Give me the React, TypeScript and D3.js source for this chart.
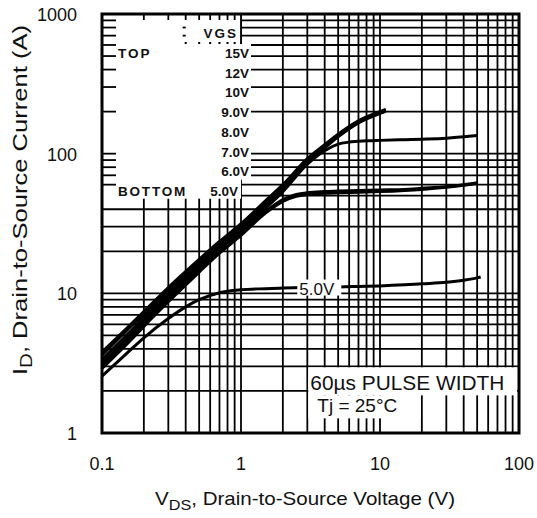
import * as d3 from "d3";

// axis labels
const xTickValues = [0.1, 1, 10, 100];
const xTickLabels = ["0.1", "1", "10", "100"];
const yTickValues = [1, 10, 100, 1000];
const yTickLabels = ["1", "10", "100", "1000"];

// VGS legend
const legendLabels = ["15V", "12V", "10V", "9.0V", "8.0V", "7.0V", "6.0V", "5.0V"];

// curves (VDS in V, ID in A)
const vdsBand = [0.1, 0.15, 0.2, 0.3, 0.5, 0.7, 1, 1.5, 2, 3, 4, 5, 7, 10, 11];
const id15 = [3.8, 5.6, 7.4, 11, 17.5, 23.5, 31.5, 46, 60, 92, 116, 138, 172, 200, 207];
const id12 = [3.6, 5.4, 7.1, 10.6, 17, 23, 30.5, 45, 59, 90, 114, 136, 170, 198, 205];
const id10 = [3.35, 5.0, 6.7, 10, 16.2, 22, 29.5, 43.5, 57, 88, 112, 134, 168, 196, 203];
const id9 = [3.15, 4.7, 6.3, 9.5, 15.5, 21, 28.5, 42, 55.5, 86, 110, 132, 166, 194, 201];

const vds8 = [0.1, 0.15, 0.2, 0.3, 0.5, 0.7, 1, 1.5, 2, 3, 4, 5, 6, 8, 10, 15, 20, 30, 40, 50];
const id8 = [3.0, 4.5, 6.0, 9.1, 14.8, 20.2, 27.2, 40.5, 53.5, 84, 105, 117, 121, 123.5, 124.5, 126, 127, 129, 132, 135];

const vds67 = [0.1, 0.15, 0.2, 0.3, 0.5, 0.7, 1, 1.5, 2, 2.5, 3, 4, 5, 7, 10, 15, 20, 30, 40, 50];
const id7 = [2.95, 4.4, 5.9, 8.9, 14.5, 19.8, 26.5, 38.5, 47, 51, 52.5, 53.5, 54, 54.5, 55, 55.5, 56.5, 58, 60, 62];
const id6 = [2.9, 4.3, 5.8, 8.7, 14.2, 19.4, 26, 37.5, 45.5, 49.5, 51, 52, 52.5, 53, 53.5, 54.5, 55.5, 57.5, 59.5, 61.5];

const vds5 = [0.1, 0.15, 0.2, 0.3, 0.4, 0.5, 0.7, 1, 1.5, 2, 3, 5, 7, 10, 15, 20, 30, 40, 50, 53];
const id5 = [2.55, 3.7, 4.8, 6.6, 8.0, 9.0, 10.1, 10.6, 10.8, 10.9, 11.0, 11.1, 11.2, 11.3, 11.5, 11.7, 12.0, 12.4, 12.9, 13.1];

const series = [
  { x: vdsBand, y: id15 },
  { x: vdsBand, y: id12 },
  { x: vdsBand, y: id10 },
  { x: vdsBand, y: id9 },
  { x: vds8, y: id8 },
  { x: vds67, y: id7 },
  { x: vds67, y: id6 },
  { x: vds5, y: id5 },
];

const width = 537;
const height = 518;
const font = "'Liberation Sans', Arial, Helvetica, sans-serif";

const App = () => {
  const xScale = d3.scaleLog().domain([0.1, 100]).range([102, 519]);
  const yScale = d3.scaleLog().domain([1, 1000]).range([433, 14]);

  const xGrid = xScale.ticks();
  const yGrid = yScale.ticks();

  const line = d3
    .line<[number, number]>()
    .x((d) => xScale(d[0]))
    .y((d) => yScale(d[1]))
    .curve(d3.curveMonotoneX);

  // legend box: VDS 0.1..1, ID 50..1000
  const boxRight = xScale(1);
  const boxBottom = yScale(50) + 3;
  const labelTop = yScale(1000) + 29;
  const labelBottom = yScale(50) - 16;

  // annotation box starts at the VDS = 3 grid line, top on ID = 3
  const noteLeft = xScale(3) + 1;
  const noteTop = yScale(3) + 1;

  return (
    <svg
      width={width}
      height={height}
      style={{ position: "absolute", left: 0, top: 0, background: "#fff" }}
    >
      {/* grid */}
      <g stroke="#000" strokeWidth={1.8}>
        {xGrid.map((v) => (
          <line key={"x" + v} x1={xScale(v)} x2={xScale(v)} y1={yScale(1000)} y2={yScale(1)} />
        ))}
        {yGrid.map((v) => (
          <line key={"y" + v} x1={xScale(0.1)} x2={xScale(100)} y1={yScale(v)} y2={yScale(v)} />
        ))}
      </g>

      {/* legend area */}
      <rect x={xScale(0.1)} y={yScale(1000)} width={boxRight - xScale(0.1)} height={boxBottom - yScale(1000)} fill="#fff" />
      <rect x={boxRight - 36} y={labelTop} width={46} height={labelBottom - labelTop} fill="#fff" />
      <g stroke="#000" strokeWidth={1.8}>
        {xGrid
          .filter((v) => v > 0.1 && v < 1)
          .map((v) => (
            <line key={"tt" + v} x1={xScale(v)} x2={xScale(v)} y1={yScale(1000)} y2={yScale(1000) + 6} />
          ))}
        {yGrid
          .filter((v) => v > 50 && v < 1000)
          .map((v) => (
            <line key={"lt" + v} x1={xScale(0.1)} x2={xScale(0.1) + 14} y1={yScale(v)} y2={yScale(v)} />
          ))}
        <line x1={boxRight} x2={boxRight} y1={yScale(1000)} y2={labelTop} />
        {[800, 700].map((v) => (
          <line key={"d" + v} x1={xScale(0.4) - 3} x2={xScale(0.4)} y1={yScale(v)} y2={yScale(v)} />
        ))}
      </g>
      <g fill="#000">
        {xGrid
          .filter((v) => v >= 0.4 && v <= 1)
          .map((v) => (
            <rect key={"dot" + v} x={xScale(v) - 1} y={labelTop - 1} width={2} height={2} />
          ))}
      </g>
      <g fontFamily={font} fontWeight="bold" fontSize={13.5} fill="#111">
        <text x={boxRight - 3} y={yScale(1000) + 24} textAnchor="end" letterSpacing={2}>
          VGS
        </text>
        <text x={xScale(0.1) + 16} y={58} letterSpacing={2}>
          TOP
        </text>
        <text x={xScale(0.1) + 16} y={196} letterSpacing={1.8}>
          BOTTOM
        </text>
        {legendLabels.map((s, i) => (
          <text
            key={s}
            x={i === legendLabels.length - 1 ? boxRight - 3 : boxRight + 8}
            y={53 + i * 19.7 + 5}
            textAnchor="end"
          >
            {s}
          </text>
        ))}
      </g>

      {/* annotation area */}
      <rect x={noteLeft} y={noteTop} width={xScale(100) - noteLeft - 2} height={28} fill="#fff" />
      <rect x={noteLeft} y={noteTop + 28} width={xScale(20) - noteLeft - 1} height={23} fill="#fff" />
      <g fontFamily={font} fill="#111">
        <text
          x={noteLeft + 2}
          y={noteTop + 23}
          fontSize={20}
          textLength={194}
          lengthAdjust="spacingAndGlyphs"
        >
          60µs PULSE  WIDTH
        </text>
        <text x={noteLeft + 9} y={noteTop + 45} fontSize={19}>
          Tj = 25°C
        </text>
      </g>

      {/* curves */}
      <g fill="none" stroke="#000" strokeWidth={3} strokeLinejoin="round">
        {series.map((s, i) => (
          <path key={i} d={line(s.x.map((v, j) => [v, s.y[j]]) as [number, number][]) || ""} />
        ))}
      </g>

      {/* 5.0V label on the curve */}
      <rect x={xScale(2.5) + 1} y={yScale(11) - 8} width={44} height={16} fill="#fff" />
      <text
        x={xScale(2.5) + 3}
        y={yScale(11) + 7}
        fontFamily={font}
        fontSize={17}
        fill="#111"
      >
        5.0V
      </text>

      {/* frame */}
      <rect
        x={xScale(0.1)}
        y={yScale(1000)}
        width={xScale(100) - xScale(0.1)}
        height={yScale(1) - yScale(1000)}
        fill="none"
        stroke="#000"
        strokeWidth={3}
      />

      {/* tick labels */}
      <g fontFamily={font} fontSize={18} fill="#111">
        {yTickValues.map((v, i) => (
          <text key={"yl" + v} x={77} y={yScale(v) + 7} textAnchor="end">
            {yTickLabels[i]}
          </text>
        ))}
        {xTickValues.map((v, i) => (
          <text key={"xl" + v} x={xScale(v)} y={470} textAnchor="middle">
            {xTickLabels[i]}
          </text>
        ))}
      </g>

      {/* axis titles */}
      <text
        x={155}
        y={505}
        fontFamily={font}
        fontSize={19}
        fill="#111"
        textLength={300}
        lengthAdjust="spacingAndGlyphs"
      >
        V<tspan dy={5} fontSize={15}>DS</tspan>
        <tspan dy={-5}>, Drain-to-Source Voltage (V)</tspan>
      </text>
      <text
        transform="translate(27,200) rotate(-90)"
        textAnchor="middle"
        fontFamily={font}
        fontSize={20}
        fill="#111"
        textLength={350}
        lengthAdjust="spacingAndGlyphs"
      >
        I<tspan dy={5} fontSize={16}>D</tspan>
        <tspan dy={-5}>, Drain-to-Source Current (A)</tspan>
      </text>
    </svg>
  );
};

export default App;
